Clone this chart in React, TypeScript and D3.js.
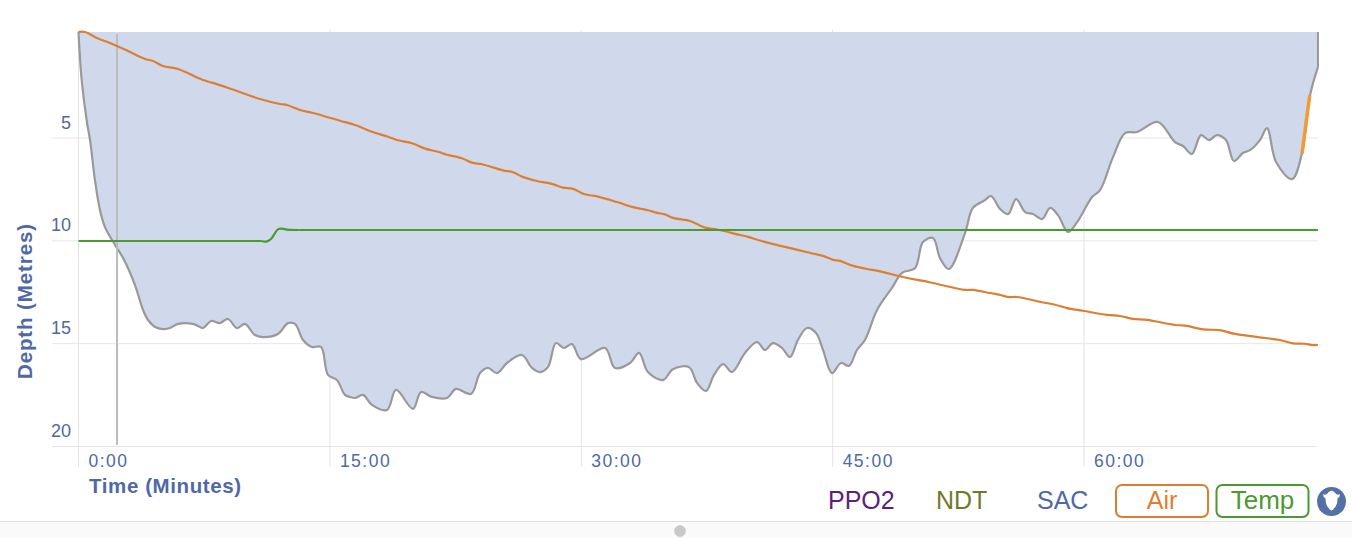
import React from 'react';
import * as d3 from 'd3';

const xTicks = [0, 15, 30, 45, 60];
const xTickLabels = ['0:00', '15:00', '30:00', '45:00', '60:00'];
const yTicks = [5, 10, 15, 20];

const depthTime = [0,.19,.51,.69,.98,1.28,1.58,2.18,2.66,3.37,3.85,4.15,4.57,5.04,5.46,5.94,6.83,7.13,7.43,7.91,8.44,8.92,9.46,9.93,10.53,11.01,11.9,12.5,12.92,13.4,13.93,14.47,14.89,15.42,15.9,16.2,16.5,16.98,17.51,18.41,18.95,19.96,20.44,21.09,21.99,22.52,23.42,23.96,24.43,24.97,25.57,26.46,27.06,27.54,28.02,28.49,28.97,29.45,29.98,31.42,32.01,32.91,33.45,33.98,34.88,35.47,36.43,36.91,37.44,37.92,38.46,38.99,39.77,40.49,40.96,41.44,41.98,42.46,42.93,43.47,44.01,44.43,44.96,45.5,45.98,46.45,46.93,47.65,48.54,49.14,49.92,50.39,50.99,51.41,51.94,52.9,53.37,54.09,54.45,55,55.47,55.95,56.49,56.96,57.5,57.98,58.45,59.05,59.59,60.48,60.96,61.73,62.45,63.16,64.41,65.43,65.91,66.44,66.98,67.46,67.93,68.47,68.95,69.48,69.9,70.5,70.92,71.46,72.41,73.01,73.49,73.96];
const depthValues = [-.15,2.18,4.27,5.1,7.04,8.5,9.33,10.2,10.84,12.15,13.36,13.85,14.19,14.29,14.24,14.04,14.04,14.14,14.24,13.9,14,13.8,14.24,14.04,14.58,14.68,14.53,14,14.04,14.82,15.16,15.16,16.52,16.77,17.49,17.59,17.64,17.49,17.98,18.22,17.25,18.17,17.35,17.59,17.64,17.2,17.44,16.43,16.18,16.43,15.94,15.55,16.18,16.38,16.13,14.97,15.21,15.02,15.75,15.21,16.18,15.94,15.45,16.38,16.77,16.24,16.14,16.91,17.3,16.52,15.99,16.38,15.45,14.92,15.31,14.97,15.21,15.65,14.82,14.24,14.48,15.31,16.43,15.94,16.08,15.31,14.82,13.36,12.29,11.56,11.32,10.06,9.86,10.84,11.37,9.62,8.4,8.02,7.82,8.46,8.7,7.97,8.6,8.7,8.94,8.4,8.75,9.57,9.09,7.87,7.53,5.93,4.76,4.71,4.22,5.2,5.39,5.78,4.86,5.1,4.86,5.1,6.12,5.73,5.59,5.1,4.52,6.17,7,5.73,2.91,1.55];
const depthTop = -0.15;

const airTime = [0,.39,1.1,1.88,2.95,3.97,4.45,5.04,5.94,7.43,8.03,9.46,10.83,12.02,12.44,13.22,13.99,15.6,16.5,17.51,18.47,19.06,19.9,20.68,21.45,21.99,22.88,23.48,24.08,25.33,25.93,26.46,27.36,28.25,28.91,29.51,30.16,31,32.13,33.09,33.98,34.52,35,35.47,36.49,37.02,37.44,37.98,39.47,39.95,40.96,43.95,44.43,45.03,45.44,46.04,47.05,47.71,49.2,50.04,50.39,50.99,52.9,53.37,54.39,55,55.47,56,57.49,58.27,58.98,59.94,61.37,62.15,62.92,63.76,65.43,66.03,67.1,68.11,69,70.38,71.69,72.47,73.18,73.6,73.96];
const airValues = [200,200,197.1,194.7,190.9,187.1,186.1,183.7,182.3,177,175.6,171.7,167.9,165.5,165,162.6,161.2,157.5,155.4,152.2,149.8,148.1,146.7,144.1,142.6,141.2,139.5,137.4,136.6,133.7,132.8,130.7,128.6,127.2,125.4,124.8,122.4,121.1,118.5,116.1,114.6,113.3,112.6,110.9,109.4,107.5,106.1,105.6,102.7,101.8,99.4,93.6,92.7,90.8,90.3,88.4,86.4,85.5,82.6,81.2,80.7,79.7,76.4,76.4,74.9,74,73,73,70.5,69.3,67.7,66.4,64.4,63.9,62.5,62,59.6,59.3,57.5,57.1,55.3,53.8,52.4,50.8,50.6,50,50];

const tempTime = [0,10.9,11.25,11.5,11.9,12.14,12.44,13.2,73.96];
const tempValues = [20,20,19.96,20.2,21.06,21.12,21.03,21,21];

const highlightTime = [73.01,73.47];
const highlightDepth = [5.75,2.92];
const cursorTime = 2.3;

const legendPlain = [{ label: 'PPO2', c: '#5b1f7c' }, { label: 'NDT', c: '#6f7a2b' }, { label: 'SAC', c: '#5069a3' }];
const legendBoxed = [{ label: 'Air', c: '#dd7f30', size: 25 }, { label: 'Temp', c: '#4b9a30', size: 26 }];

const BLUE = '#4f69a4';
const FONT = '"Liberation Sans", Arial, sans-serif';

export default function App() {
  const x = d3.scaleLinear().domain([0, 60]).range([78.5, 1084]);
  const y = d3.scaleLinear().domain([5, 20]).range([138, 446.5]);
  const air = d3.scaleLinear().domain([200, 50]).range([32, 345]);
  const temp = d3.scaleLinear().domain([20, 21]).range([241, 230]);
  const right = x(73.96);
  const top = y(depthTop);

  const depthPts = depthTime.map((t, i) => [x(t), y(depthValues[i])] as [number, number]);
  const curve = d3.curveCatmullRom.alpha(0.5);
  const line = d3.line().curve(curve);
  const straight = d3.line();
  const area = d3.area<[number, number]>().x(d => d[0]).y1(d => d[1]).y0(top).curve(curve);
  const airPts = airTime.map((t, i) => [x(t), air(airValues[i])] as [number, number]);
  const tempPts = tempTime.map((t, i) => [x(t), temp(tempValues[i])] as [number, number]);
  const hlPts = highlightTime.map((t, i) => [x(t), y(highlightDepth[i])] as [number, number]);
  const lastDepth = depthPts[depthPts.length - 1];

  const legendXs = [828, 936, 1037];
  return (
    <svg width={1352} height={538} style={{ position: 'absolute', left: 0, top: 0, fontFamily: FONT }}>
      <rect x={0} y={521} width={1352} height={17} fill="#fafafa" />
      <line x1={0} x2={1352} y1={521.5} y2={521.5} stroke="#dedede" />
      <circle cx={680} cy={531} r={5.5} fill="#c9c9c9" stroke="#bbb" strokeWidth={0.5} />

      {yTicks.map(t => (
        <g key={t}>
          <line x1={52} x2={right} y1={y(t)} y2={y(t)} stroke="#e6e6e6" strokeWidth={1} />
          <text x={71} y={y(t) - 9.5} textAnchor="end" fontSize={18} fill={BLUE}>{t}</text>
        </g>
      ))}
      {xTicks.map((t, i) => (
        <g key={t}>
          <line x1={x(t)} x2={x(t)} y1={30} y2={467} stroke="#e4e4e4" strokeWidth={1} />
          <text x={x(t) + 10} y={466.5} fontSize={17.5} letterSpacing={1.5} fill={BLUE}>{xTickLabels[i]}</text>
        </g>
      ))}

      <path d={area(depthPts) ?? ''} fill="#d0d9eb" />
      <path d={line(depthPts) ?? ''} fill="none" stroke="#999" strokeWidth={2.2} />
      <path d={straight([lastDepth, [lastDepth[0], top]]) ?? ''} fill="none" stroke="#999" strokeWidth={2} />
      <line x1={x(cursorTime)} x2={x(cursorTime)} y1={34} y2={445} stroke="#bcbcbc" strokeWidth={2} />
      <path d={line(airPts) ?? ''} fill="none" stroke="#dd7f30" strokeWidth={2.2} />
      <path d={straight(tempPts.slice(0, 2)) ?? ''} fill="none" stroke="#4b9a30" strokeWidth={2.2} />
      <path d={line(tempPts.slice(1, -1)) ?? ''} fill="none" stroke="#4b9a30" strokeWidth={2.2} />
      <path d={straight(tempPts.slice(-2)) ?? ''} fill="none" stroke="#4b9a30" strokeWidth={2.2} />
      <path d={straight(hlPts) ?? ''} fill="none" stroke="#f39a32" strokeWidth={3.5} />

      <text x={89} y={493} fontSize={20.5} letterSpacing={0.6} fontWeight={700} fill={BLUE}>Time (Minutes)</text>
      <text transform="translate(32,301) rotate(-90)" textAnchor="middle" fontSize={20.5} letterSpacing={0.9} fontWeight={700} fill={BLUE}>Depth (Metres)</text>

      {legendPlain.map((l, i) => (
        <text key={l.label} x={legendXs[i]} y={509} fontSize={25} fill={l.c}>{l.label}</text>
      ))}
      {legendBoxed.map((l, i) => (
        <g key={l.label}>
          <rect x={1116 + i * 100.5} y={485} width={92} height={32} rx={6} fill="#fff" stroke={l.c} strokeWidth={2} />
          <text x={1162 + i * 100.5} y={509} textAnchor="middle" fontSize={l.size} fill={l.c}>{l.label}</text>
        </g>
      ))}
      <circle cx={1331.5} cy={501.5} r={14.5} fill="#5570a6" />
      <path d="M1323 494 q2 1.5 3.8 0 q2 -3 4.7 -3.5 q2.7 .5 4.7 3.5 q1.8 1.5 3.8 0 q0 3 -2.5 4.5 l-0.5 5 q-1.5 5 -5.5 7 q-4 -2 -5.5 -7 l-0.5 -5 q-2.5 -1.5 -2.5 -4.5 z" fill="#fff" />
    </svg>
  );
}
